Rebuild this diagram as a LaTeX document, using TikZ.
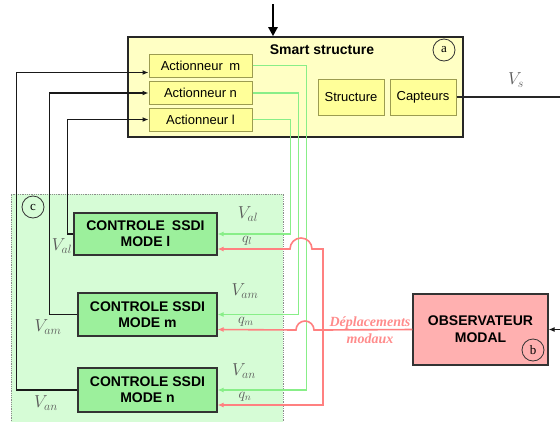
\documentclass[tikz,border=0pt]{standalone}
\usepackage{fontspec}
\setmainfont{Liberation Sans}
\newfontfamily\serif{Liberation Serif}
\usetikzlibrary{arrows.meta}
\definecolor{smartY}{HTML}{FFFFC4}
\definecolor{actY}{HTML}{FFFF99}
\definecolor{actB}{HTML}{9C9C50}
\definecolor{zoneG}{HTML}{D6FCD6}
\definecolor{ctrlG}{HTML}{9CF09C}
\definecolor{obsR}{HTML}{FFB0B0}
\definecolor{lineG}{HTML}{88EE88}
\definecolor{lineR}{HTML}{FF8080}
\definecolor{lblR}{HTML}{FF8C8C}
\begin{document}
\begin{tikzpicture}[x=1pt,y=-1pt,
  smartbox/.style={draw=black!85, fill=smartY, line width=1.6pt, minimum width=335pt, minimum height=100pt, inner sep=0pt},
  act/.style={draw=actB, fill=actY, line width=1pt, minimum width=103pt, minimum height=23pt, inner sep=0pt, font=\fontsize{13}{15}\selectfont},
  blk2/.style={draw=actB, fill=actY, line width=1pt, minimum width=66pt, minimum height=36pt, inner sep=0pt, font=\fontsize{13}{15}\selectfont},
  circ/.style={circle, draw=black!80, line width=0.8pt, minimum size=22pt, inner sep=0pt, font=\serif\fontsize{13}{15}\selectfont},
  zonebox/.style={draw=black!45, densely dotted, fill=zoneG, line width=0.8pt, inner sep=0pt},
  ctrl/.style={draw=black!80, fill=ctrlG, line width=1.2pt, inner sep=0pt, align=center, font=\bfseries\fontsize{14}{16}\selectfont},
  obsbox/.style={draw=black!80, fill=obsR, line width=1.2pt, inner sep=0pt, align=center, minimum width=135pt, minimum height=71pt, font=\bfseries\fontsize{14}{17}\selectfont},
  blkline/.style={draw=black!90, line width=1.5pt, -{Latex[length=6pt,width=5pt]}},
  grnline/.style={draw=lineG, line width=1.8pt, -{Latex[length=6pt,width=5pt]}},
  redline/.style={draw=lineR, line width=1.6pt},
  redarrow/.style={redline, -{Latex[length=6pt,width=5pt]}},
  vlab/.style={text=black!65, inner sep=0pt, font=\fontsize{17}{19}\selectfont},
  qlab/.style={text=black!65, inner sep=0pt, font=\fontsize{14}{16}\selectfont}
]
\useasboundingbox (0,0) rectangle (560,421);

% zone c
\node[zonebox, minimum width=272pt, minimum height=236pt] (zone) at (147,312) {};
\node[circ] (cc) at (33,207) {c};

% smart structure
\node[smartbox] (smart) at (295.5,87) {};
\node[font=\bfseries\fontsize{14}{16}\selectfont, inner sep=0pt] (title) at (322,50) {Smart structure};
\node[circ] (ca) at (444,50) {a};
\node[act] (am) at (200.5,65.5) {Actionneur\enspace m};
\node[act] (an) at (200.5,93) {Actionneur n};
\node[act] (al) at (200.5,119.5) {Actionneur l};
\node[blk2] (struct) at (351,97) {Structure};
\node[blk2] (capt) at (423,97) {Capteurs};

% top input arrow
\coordinate (topin) at (273,4);
\draw[draw=black, line width=2.6pt, -{Triangle[length=9pt,width=9pt]}] (topin) -- (topin |- smart.north);

% output Vs
\coordinate (vsout) at (560,97);
\draw[draw=black!85, line width=1.5pt] (capt.east) -- (vsout);
\node[vlab] (vs) at (516,80) {$V_s$};

% control boxes
\node[ctrl, minimum width=143pt, minimum height=42pt] (cl) at (145.5,234) {CONTROLE\enspace SSDI\\MODE l};
\node[ctrl, minimum width=139pt, minimum height=43pt] (cm) at (147.5,314.5) {CONTROLE SSDI\\MODE m};
\node[ctrl, minimum width=139pt, minimum height=44pt] (cn) at (147.5,390) {CONTROLE SSDI\\MODE n};

% observer
\node[obsbox] (obs) at (480.5,329.5) {OBSERVATEUR\\MODAL};
\node[circ] (cb) at (533,350) {b};
\coordinate (obsin) at (560,329.5);
\draw[blkline] (obsin) -- (obs.east);

% black feedback lines
\draw[blkline] (cl.west) -- ++(-6,0) |- (al.west);
\draw[blkline] (cm.west) -- ++(-28,0) |- (an.west);
\draw[blkline] (cn.west) -- ++(-61,0) |- ([yshift=-7pt]am.west);

% green lines
\coordinate (gm) at ([xshift=54pt]am.east);
\draw[grnline] (am.east) -- (gm) |- (cn.east);
\draw[grnline] (an.east) -- ++(46,0) |- (cm.east);
\draw[grnline] (al.east) -- ++(38,0) |- (cl.east);

% red lines
\coordinate (rj) at (323,330);
\draw[redarrow] (obs.west) -- (rj) -- (314,330) arc[start angle=0, end angle=-180, radius=9] -- ([yshift=-15pt]cm.east);
\draw[redarrow] (rj) -- (323,249) -- (312,249) arc[start angle=0, end angle=-180, radius=11] -- ([yshift=-15pt]cl.east);
\draw[redarrow] (rj) |- ([yshift=-15pt]cn.east);

% labels
\node[vlab] (val) at (248,214) {$V_{al}$};
\node[qlab] (ql) at (247,241) {$q_l$};
\node[vlab] (val2) at (62,246) {$V_{al}$};
\node[vlab] (vam) at (245,291) {$V_{am}$};
\node[qlab] (qm) at (246,322) {$q_m$};
\node[vlab] (vam2) at (48,327) {$V_{am}$};
\node[vlab] (van) at (244,371) {$V_{an}$};
\node[qlab] (qn) at (245,397) {$q_n$};
\node[vlab] (van2) at (46,403) {$V_{an}$};

\node[text=lblR, align=center, inner sep=0pt, font=\serif\bfseries\itshape\fontsize{14}{17}\selectfont] (dep) at (370,330.5) {Déplacements\\modaux};
\end{tikzpicture}
\end{document}
